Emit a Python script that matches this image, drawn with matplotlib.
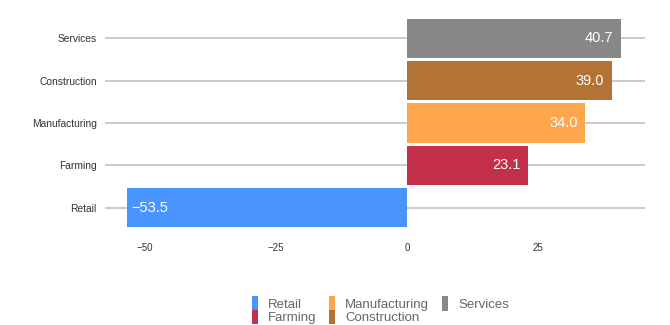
import matplotlib
matplotlib.use("Agg")
import matplotlib.pyplot as plt
from matplotlib.patches import Patch

plt.rcParams['font.family'] = ['Liberation Sans', 'DejaVu Sans']

categories = ["Retail", "Farming", "Manufacturing", "Construction", "Services"]
values = [-53.5, 23.1, 34.0, 39.0, 40.7]
colors = ["#4a94ff", "#c4304a", "#ffa54d", "#b37334", "#888888"]
xticks = [-50, -25, 0, 25]
xtick_labels = ["\u221250", "\u221225", "0", "25"]

fig = plt.figure(figsize=(6.7, 3.25), dpi=100)
ax = fig.add_axes([0.157, 0.295, 0.806, 0.653])

ypos = list(range(len(categories)))
for y in ypos:
    ax.axhline(y, color="#c6c6c6", lw=1.3, zorder=0)
ax.barh(ypos, values, height=0.92, color=colors, zorder=2)

for y, v in zip(ypos, values):
    txt = f"{v:.1f}".replace("-", "\u2212")
    if v >= 0:
        ax.text(v - 1.4, y, txt, ha="right", va="center", color="white", fontsize=10.5, zorder=3)
    else:
        ax.text(v + 0.8, y, txt, ha="left", va="center", color="white", fontsize=10.5, zorder=3)

ax.set_xlim(-57.6, 45.4)
ax.set_ylim(-0.5, 4.5)
ax.set_yticks(ypos)
ax.set_yticklabels(categories, fontsize=7.4, color="#333333")
ax.set_xticks(xticks)
ax.set_xticklabels(xtick_labels, fontsize=7, color="#333333")
ax.tick_params(axis="both", length=0)
ax.tick_params(axis="y", pad=6)
ax.tick_params(axis="x", pad=10)
for s in ax.spines.values():
    s.set_visible(False)

handles = [Patch(facecolor=c, label=l) for c, l in zip(colors, categories)]
leg = fig.legend(handles=handles, loc="center", bbox_to_anchor=(0.568, 0.045), ncol=3,
                 frameon=False, fontsize=9.5, handlelength=0.45, handleheight=1.3,
                 handletextpad=0.75, columnspacing=1.0, labelspacing=-0.1,
                 labelcolor="#666666")

fig.savefig("out.png", dpi=100)
